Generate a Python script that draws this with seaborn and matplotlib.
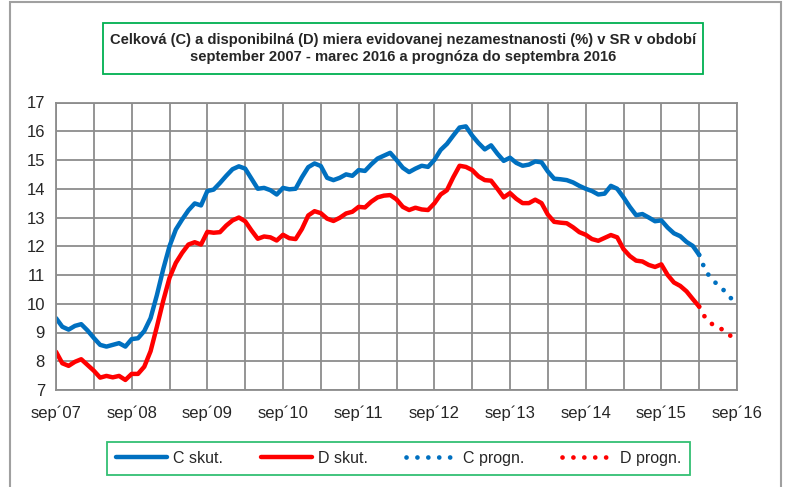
import matplotlib
matplotlib.use("Agg")
import matplotlib.pyplot as plt
from matplotlib.patches import Rectangle
from matplotlib.lines import Line2D
import seaborn as sns
import numpy as np
import pandas as pd

# monthly values, sep 2007 .. mar 2016 (actual)
c_actual = [9.5, 9.2, 9.1, 9.23, 9.29, 9.07, 8.81, 8.57, 8.51, 8.57, 8.63, 8.51,
            8.77, 8.8, 9.05, 9.5, 10.3, 11.2, 12.0, 12.58, 12.93, 13.25, 13.49, 13.42,
            13.92, 13.97, 14.2, 14.45, 14.68, 14.78, 14.7, 14.35, 14.0, 14.03, 13.95, 13.8,
            14.03, 13.98, 14.0, 14.4, 14.75, 14.88, 14.79, 14.38, 14.3, 14.38, 14.5, 14.45,
            14.65, 14.62, 14.85, 15.05, 15.15, 15.25, 15.0, 14.73, 14.58, 14.7, 14.8, 14.76,
            15.0, 15.35, 15.56, 15.85, 16.13, 16.17, 15.85, 15.59, 15.37, 15.51, 15.22, 14.97,
            15.08, 14.9, 14.8, 14.84, 14.95, 14.92, 14.6, 14.35, 14.33, 14.3, 14.22, 14.1,
            14.0, 13.92, 13.8, 13.83, 14.1, 14.0, 13.7, 13.37, 13.08, 13.12, 13.0, 12.87,
            12.9, 12.65, 12.45, 12.35, 12.15, 12.01, 11.7]
d_actual = [8.33, 7.93, 7.84, 7.98, 8.07, 7.87, 7.67, 7.43, 7.49, 7.44, 7.49, 7.35,
            7.56, 7.56, 7.81, 8.35, 9.2, 10.1, 10.9, 11.42, 11.77, 12.06, 12.14, 12.06,
            12.5, 12.47, 12.49, 12.72, 12.9, 13.0, 12.87, 12.55, 12.26, 12.34, 12.31, 12.2,
            12.4, 12.28, 12.25, 12.6, 13.07, 13.22, 13.15, 12.96, 12.88, 12.99, 13.14, 13.2,
            13.37, 13.35, 13.55, 13.7, 13.76, 13.78, 13.63, 13.37, 13.26, 13.34, 13.28, 13.26,
            13.49, 13.8, 13.95, 14.4, 14.8, 14.76, 14.65, 14.43, 14.3, 14.28, 14.0, 13.7,
            13.85, 13.65, 13.5, 13.5, 13.62, 13.5, 13.1, 12.85, 12.82, 12.8, 12.66, 12.49,
            12.4, 12.25, 12.19, 12.29, 12.39, 12.31, 11.9, 11.66, 11.5, 11.47, 11.35, 11.28,
            11.37, 11.0, 10.74, 10.62, 10.43, 10.16, 9.9]
# forecast mar 2016 .. sep 2016
c_forecast = [11.7, 11.15, 10.85, 10.65, 10.45, 10.2, 10.05]
d_forecast = [9.9, 9.5, 9.3, 9.2, 9.05, 8.88, 8.8]

year_labels = ["sep´07", "sep´08", "sep´09", "sep´10", "sep´11",
               "sep´12", "sep´13", "sep´14", "sep´15", "sep´16"]
legend_labels = ["C skut.", "D skut.", "C progn.", "D progn."]
title = ("Celková (C) a disponibilná (D) miera evidovanej nezamestnanosti (%) v SR v období\n"
         "september 2007 - marec 2016 a prognóza do septembra 2016")

BLUE = "#0070C0"
RED = "#FF0000"
GREEN = "#00B050"
GRID = "#8C8C8C"

sns.set_style("white")
plt.rcParams["font.family"] = ["Liberation Sans", "DejaVu Sans"]

n_act = len(c_actual)
actual = pd.DataFrame({"m": np.arange(n_act), "C": c_actual, "D": d_actual})
fc = pd.DataFrame({"m": np.arange(n_act - 1, n_act - 1 + len(c_forecast)),
                   "C": c_forecast, "D": d_forecast})

fig = plt.figure(figsize=(7.87, 4.87), dpi=100)
ax = fig.add_axes([56 / 787, 1 - 390 / 487, 681 / 787, 287.5 / 487])

sns.lineplot(data=actual, x="m", y="C", ax=ax, color=BLUE, lw=3.2, solid_capstyle="round")
sns.lineplot(data=actual, x="m", y="D", ax=ax, color=RED, lw=3.2, solid_capstyle="round")
dot = (0, (0.01, 2.3))
sns.lineplot(data=fc, x="m", y="C", ax=ax, color=BLUE, lw=3.4, linestyle=dot,
             dash_capstyle="round")
sns.lineplot(data=fc, x="m", y="D", ax=ax, color=RED, lw=3.4, linestyle=dot,
             dash_capstyle="round")

ax.set_xlim(0, 108)
ax.set_ylim(7, 17)
ax.set_yticks(range(7, 18))
ticks = list(range(0, 109, 6))
ax.set_xticks(ticks)
ax.set_xticklabels([year_labels[t // 12] if t % 12 == 0 else "" for t in ticks])
ax.grid(True, color=GRID, lw=1.3)
ax.set_axisbelow(True)
for s in ax.spines.values():
    s.set_color(GRID)
    s.set_linewidth(1.3)
ax.tick_params(axis="both", direction="out", length=5, width=1.3, color=GRID,
               labelsize=12, pad=3)
ax.tick_params(axis="x", pad=6)
ax.set_xlabel("")
ax.set_ylabel("")

# outer chart frame
fig.patches.append(Rectangle((10 / 787, -0.02), 771 / 787, 1.015, transform=fig.transFigure,
                             fill=False, edgecolor="#A0A0A0", lw=1.5))

# title box
fig.patches.append(Rectangle((103 / 787, 1 - 74 / 487), 600 / 787, 51 / 487,
                             transform=fig.transFigure, fill=False, edgecolor=GREEN, lw=1.3))
fig.text(403 / 787, 1 - 48.5 / 487, title, ha="center", va="center", fontsize=10.6,
         fontweight="bold", linespacing=1.35)

handles = [Line2D([], [], color=BLUE, lw=3.2, solid_capstyle="round"),
           Line2D([], [], color=RED, lw=3.2, solid_capstyle="round"),
           Line2D([], [], color=BLUE, lw=3.4, linestyle=dot, dash_capstyle="round"),
           Line2D([], [], color=RED, lw=3.4, linestyle=dot, dash_capstyle="round")]
leg = fig.legend(handles, legend_labels, loc="center", ncol=4, mode="expand",
                 bbox_to_anchor=(107 / 787, 1 - 475 / 487, 583 / 787, 33 / 487),
                 frameon=True, fancybox=False, fontsize=11.5, handlelength=3.2,
                 handletextpad=0.4, borderpad=0.55, borderaxespad=0)
leg.get_frame().set_edgecolor(GREEN)
leg.get_frame().set_linewidth(1.3)

fig.savefig("out.png", dpi=100)
